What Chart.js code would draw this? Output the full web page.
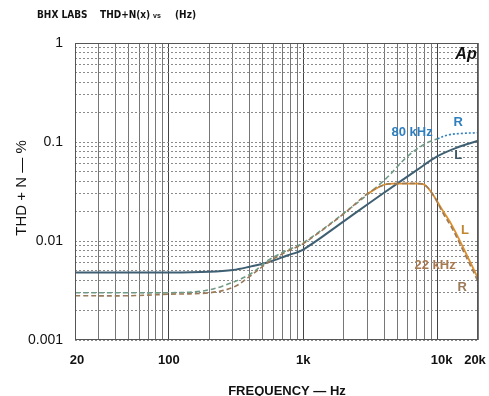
<!DOCTYPE html>
<html><head><meta charset="utf-8">
<script src="https://cdn.jsdelivr.net/npm/chart.js@4/dist/chart.umd.min.js"></script>
<style>html,body{margin:0;padding:0;background:#fff}#wrap{width:489px;height:396px;position:relative}</style>
</head><body><div id="wrap"><canvas id="c" width="489" height="396"></canvas></div>
<script>
// ---- data ----
const freqL80 = [20,50,100,200,300,400,550,750,1000,2000,3000,5000,7000,10000,14000,20000];
const thdL80  = [0.0048,0.0048,0.0048,0.0049,0.0051,0.0055,0.0061,0.0071,0.0082,0.0158,0.0234,0.038,0.052,0.072,0.088,0.103];

const freqR80 = [20,50,100,170,250,400,550,750,1000,2000,4000,6000,8000,10000,12000,15000,20000];
const thdR80  = [0.0030,0.0030,0.0030,0.0031,0.0035,0.0046,0.0064,0.0080,0.0096,0.019,0.041,0.072,0.095,0.108,0.118,0.122,0.124];

const freqL22 = [3000,4000,5000,6000,7000,8000,9300,11000,12800,15500,20000];
const thdL22  = [0.030,0.037,0.038,0.038,0.038,0.037,0.029,0.020,0.0144,0.0086,0.0042];

const freqR22 = [20,50,100,200,300,400,550,750,1000,2000,3000,4000,5000,7000,8000,9300,11000,12800,15500,20000];
const thdR22  = [0.0028,0.0028,0.0029,0.0030,0.0034,0.0044,0.0061,0.0078,0.0094,0.0188,0.030,0.037,0.038,0.038,0.037,0.029,0.019,0.0135,0.008,0.0039];

const xTickValues = [20,100,1000,10000,20000];
const xTickLabels = ['20','100','1k','10k','20k'];
const yTickValues = [1,0.1,0.01,0.001];
const yTickLabels = ['1','0.1','0.01','0.001'];

const xGrid = [];
[10,100,1000,10000].forEach(d=>{for(let m=1;m<10;m++){const v=m*d;if(v>=20&&v<=20000)xGrid.push(v);}});
xGrid.push(20000);
const yGrid = [];
[0.001,0.01,0.1].forEach(d=>{for(let m=1;m<10;m++)yGrid.push(+(m*d).toPrecision(3));});
yGrid.push(1);

const pts = (f,v)=>f.map((x,i)=>({x:x,y:v[i]}));

const labelsPlugin = {
  id:'labels',
  afterDraw(chart){
    const ctx=chart.ctx, xs=chart.scales.x, ys=chart.scales.y, a=chart.chartArea;
    ctx.save();
    // frame
    ctx.strokeStyle='#555'; ctx.lineWidth=1;
    ctx.strokeRect(a.left+0.5,a.top+0.5,a.right-a.left-1,a.bottom-a.top-1);
    ctx.fillStyle='#111';
    // header
    ctx.textBaseline='middle'; ctx.textAlign='left';
    ctx.font='bold 10px "Liberation Sans Narrow", "DejaVu Sans Condensed", sans-serif';
    ctx.fillText('BHX LABS',37,15);
    ctx.fillText('THD+N(x)',100,15);
    ctx.font='bold 7px "Liberation Sans Narrow", sans-serif';
    ctx.fillText('vs',153,16);
    ctx.font='bold 10px "Liberation Sans Narrow", "DejaVu Sans Condensed", sans-serif';
    ctx.fillText('(Hz)',175,15);
    // y tick labels
    ctx.font='14px "Liberation Sans", Arial, sans-serif';
    ctx.textAlign='right';
    yTickValues.forEach((v,i)=>ctx.fillText(yTickLabels[i],63,ys.getPixelForValue(v)));
    // x tick labels
    ctx.font='bold 13px "Liberation Sans", Arial, sans-serif';
    ctx.textAlign='center';
    xTickValues.forEach((v,i)=>{
      let px=xs.getPixelForValue(v);
      if(v===20) px+=2; if(v===10000) px+=4; if(v===20000) px-=3;
      ctx.fillText(xTickLabels[i],px,360);
    });
    // axis titles
    ctx.font='bold 13px "Liberation Sans", Arial, sans-serif';
    ctx.fillText('FREQUENCY \u2014 Hz',287,391);
    ctx.save();
    ctx.translate(22,188); ctx.rotate(-Math.PI/2);
    ctx.font='15px "Liberation Sans", Arial, sans-serif';
    ctx.fillText('THD + N \u2014 %',0,0);
    ctx.restore();
    // Ap logo
    ctx.font='italic bold 16px "Liberation Sans", Arial, sans-serif';
    ctx.fillStyle='#111';
    ctx.fillText('Ap',466,55);
    // series annotations
    ctx.font='bold 13px "Liberation Sans", Arial, sans-serif';
    const ann=[['80 kHz',6460,0.124,'#2f7fbf'],['R',14220,0.156,'#2f7fbf'],['L',14220,0.073,'#3d5a6a'],
               ['L',16030,0.0128,'#c0872f'],['22 kHz',9590,0.0057,'#a87a50'],['R',15230,0.0034,'#9a7a58']];
    ann.forEach(t=>{ctx.fillStyle=t[3];ctx.fillText(t[0],xs.getPixelForValue(t[1]),ys.getPixelForValue(t[2]));});
    ctx.restore();
  }
};

new Chart(document.getElementById('c'),{
  type:'line',
  data:{datasets:[
    {label:'R 22 kHz',data:pts(freqR22,thdR22),borderColor:'#9a7a58',borderWidth:1.6,borderDash:[5,3],pointRadius:0,tension:0.35,fill:false},
    {label:'L 22 kHz',data:pts(freqL22,thdL22),borderColor:'#e0902a',borderWidth:1.8,pointRadius:0,tension:0.35,fill:false},
    {label:'R 80 kHz',data:pts(freqR80,thdR80),borderColor:'#6f9a86',borderWidth:1.6,borderDash:[5,3],pointRadius:0,tension:0.35,fill:false,
      segment:{borderColor:c=>c.p0.parsed.x>=10000?'#2f7fbf':undefined,borderDash:c=>c.p0.parsed.x>=10000?[2,2]:undefined}},
    {label:'L 80 kHz',data:pts(freqL80,thdL80),borderColor:'#3f5f72',borderWidth:2,pointRadius:0,tension:0.35,fill:false}
  ]},
  options:{
    responsive:false,animation:false,
    layout:{padding:{left:75,right:11,top:43,bottom:56}},
    plugins:{legend:{display:false},tooltip:{enabled:false}},
    scales:{
      x:{type:'logarithmic',min:20,max:20000,
        afterBuildTicks:s=>{s.ticks=xGrid.map(v=>({value:v}));},
        ticks:{display:false},
        grid:{drawTicks:false,color:c=>{const v=c.tick&&c.tick.value;return (v===100||v===1000||v===10000)?'#444':'#777';},lineWidth:1},
        border:{display:false}},
      y:{type:'logarithmic',min:0.001,max:1,
        afterBuildTicks:s=>{s.ticks=yGrid.map(v=>({value:v}));},
        ticks:{display:false},
        grid:{drawTicks:false,color:'#8a8a8a',lineWidth:1},
        border:{display:false,dash:[2,2]}}
    }
  },
  plugins:[labelsPlugin]
});
</script></body></html>
